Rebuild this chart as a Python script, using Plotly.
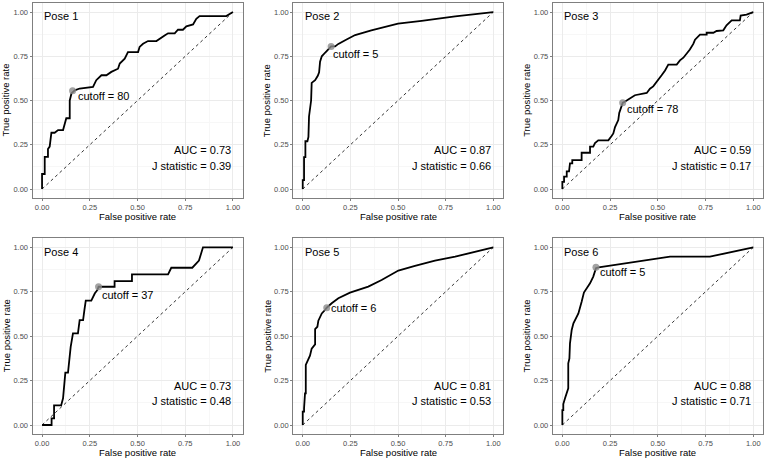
import plotly.graph_objects as go

# ---------------- data ----------------
panel_titles = ["Pose 1", "Pose 2", "Pose 3", "Pose 4", "Pose 5", "Pose 6"]

fpr1 = [0, 0, .014, .014, .031, .031, .040, .049, .066, .084, .110, .119, .127, .145, .145, .154, .171, .197, .258, .267,
        .284, .311, .337, .363, .398, .407, .433, .450, .503, .511, .529, .555, .599, .616, .642, .660, .695, .712, .738, .756,
        .791, .808, .825, .965, 1]
tpr1 = [0, .085, .085, .182, .182, .226, .24, .318, .318, .333, .333, .37, .40, .40, .50, .54, .558, .568, .577, .577,
        .615, .643, .643, .662, .68, .709, .737, .774, .774, .803, .821, .836, .836, .85, .868, .88, .88, .90, .90, .919,
        .93, .962, .977, .977, 1]

fpr2 = [0, 0, .007, .007, .014, .014, .0245, .03, .033, .04, .044, .047, .065, .079, .086, .091, .10, .117, .135, .149,
        .17, .187, .23, .275, .36, .50, .624, .80, 1]
tpr2 = [0, .05, .05, .18, .18, .27, .27, .295, .41, .46, .50, .60, .615, .64, .66, .72, .75, .77, .79, .806,
        .806, .82, .845, .87, .897, .934, .95, .976, 1]

fpr3 = [0, 0, .009, .009, .023, .023, .035, .040, .052, .052, .101, .101, .145, .145, .162, .171, .188, .241, .258, .267,
        .276, .293, .298, .311, .316, .337, .363, .380, .442, .459, .476, .503, .520, .538, .555, .599, .616, .634, .651, .668,
        .686, .695, .721, .756, .756, .791, .808, .843, .86, .887, .93, .934, .965, 1]
tpr3 = [0, .04, .04, .07, .07, .10, .10, .145, .145, .163, .163, .205, .205, .24, .24, .26, .275, .275, .30, .314,
        .35, .39, .43, .47, .487, .50, .52, .53, .543, .567, .58, .615, .643, .67, .703, .703, .727, .742, .765, .788,
        .82, .844, .872, .872, .883, .883, .893, .897, .925, .953, .953, .98, .985, 1]

fpr4 = [0, .05, .05, .063, .063, .10, .11, .116, .122, .136, .14, .15, .162, .188, .197, .215, .222, .229, .258, .276,
        .29, .296, .38, .38, .471, .471, .66, .677, .787, .822, .843, 1]
tpr4 = [0, 0, .037, .037, .11, .11, .15, .206, .295, .295, .347, .44, .516, .516, .59, .59, .648, .70, .70, .74,
        .76, .778, .778, .81, .81, .848, .848, .885, .885, .925, 1, 1]

fpr5 = [0, 0, .007, .007, .012, .016, .016, .024, .038, .047, .061, .065, .065, .077, .082, .091, .10, .117, .126, .152,
        .187, .248, .344, .414, .502, .589, .694, .80, 1]
tpr5 = [0, .075, .075, .094, .178, .178, .338, .356, .39, .43, .454, .454, .54, .553, .587, .61, .628, .647, .66, .685,
        .713, .745, .779, .816, .869, .895, .925, .947, 1]

fpr6 = [0, 0, .005, .005, .014, .023, .031, .031, .037, .040, .049, .058, .084, .101, .113, .145, .162, .176, .19, .564,
        .773, 1]
tpr6 = [0, .084, .084, .118, .15, .178, .206, .347, .375, .46, .535, .572, .628, .694, .745, .797, .835, .882, .887, .947,
        .947, 1]

cut_x = [0.16, 0.149, 0.316, 0.296, 0.126, 0.176]
cut_y = [0.555, 0.806, 0.487, 0.778, 0.66, 0.887]
cut_values = [80, 5, 78, 37, 6, 5]
auc = [0.73, 0.87, 0.59, 0.73, 0.81, 0.88]
jstat = [0.39, 0.66, 0.17, 0.48, 0.53, 0.71]

tick_vals = [0, 0.25, 0.5, 0.75, 1.0]
tick_text = ["0.00", "0.25", "0.50", "0.75", "1.00"]

fprs = [fpr1, fpr2, fpr3, fpr4, fpr5, fpr6]
tprs = [tpr1, tpr2, tpr3, tpr4, tpr5, tpr6]

# ---------------- layout geometry ----------------
W, H = 766, 460
x_domains = [(32.5 / W, 242.5 / W), (293.2 / W, 502.8 / W), (552.8 / W, 762.8 / W)]
y_domains = [(1 - 197.9 / H, 1 - 3.2 / H), (1 - 433.9 / H, 1 - 238.4 / H)]
label_xshift = [3, 0, 2, 1, 2, 2]
label_yshift = [-5, -8, -6, -8, 0, -5]

FONT = "Liberation Sans, Arial, sans-serif"
fig = go.Figure()
layout = dict(width=W, height=H, margin=dict(l=0, r=0, t=0, b=0),
              paper_bgcolor="white", plot_bgcolor="white", showlegend=False,
              font=dict(family=FONT, color="black"))
annotations = []

for i in range(6):
    r, c = divmod(i, 3)
    n = "" if i == 0 else str(i + 1)
    xa, ya = "x" + n, "y" + n
    axis_common = dict(range=[-0.05, 1.05], tickvals=tick_vals, ticktext=tick_text,
                       tickfont=dict(size=7.5, color="#4d4d4d", family=FONT),
                       ticks="outside", ticklen=2, tickcolor="#7f7f7f", tickwidth=1,
                       showline=True, mirror=True, linecolor="#7f7f7f", linewidth=1,
                       showgrid=True, gridcolor="#ebebeb", gridwidth=1, zeroline=False,
                       minor=dict(tickvals=[0.125, 0.375, 0.625, 0.875], showgrid=True,
                                  gridcolor="#f7f7f7", gridwidth=1, ticks=""),
                       fixedrange=True)
    layout["xaxis" + n] = dict(axis_common, domain=x_domains[c], anchor=ya)
    layout["yaxis" + n] = dict(axis_common, domain=y_domains[r], anchor=xa)

    # diagonal reference
    fig.add_trace(go.Scatter(x=[0, 1], y=[0, 1], mode="lines", xaxis=xa, yaxis=ya,
                             line=dict(color="black", width=0.8, dash="3px,3px"), hoverinfo="skip"))
    # ROC curve
    fig.add_trace(go.Scatter(x=fprs[i], y=tprs[i], mode="lines", xaxis=xa, yaxis=ya,
                             line=dict(color="black", width=1.8), hoverinfo="skip"))
    # cutoff point
    fig.add_trace(go.Scatter(x=[cut_x[i]], y=[cut_y[i]], mode="markers", xaxis=xa, yaxis=ya,
                             marker=dict(color="rgba(140,140,140,0.8)", size=7), hoverinfo="skip"))

    annotations.append(dict(x=cut_x[i], y=cut_y[i], xref=xa, yref=ya, text=f"cutoff = {cut_values[i]}",
                            showarrow=False, xanchor="left", yanchor="middle",
                            xshift=label_xshift[i], yshift=label_yshift[i],
                            font=dict(size=11, color="black")))
    annotations.append(dict(x=1.0, y=0.218, xref=xa, yref=ya, text=f"AUC = {auc[i]:.2f}",
                            showarrow=False, xanchor="right", yanchor="middle",
                            font=dict(size=11, color="black")))
    annotations.append(dict(x=1.0, y=0.133, xref=xa, yref=ya, text=f"J statistic = {jstat[i]:.2f}",
                            showarrow=False, xanchor="right", yanchor="middle",
                            font=dict(size=11, color="black")))
    annotations.append(dict(x=0.0, y=0.975, xref=xa, yref=ya, text=panel_titles[i],
                            showarrow=False, xanchor="left", yanchor="middle",
                            font=dict(size=11, color="black")))
    # axis titles
    annotations.append(dict(x=0.5, y=0, xref=xa + " domain", yref=ya + " domain", yshift=-18.5,
                            text="False positive rate", showarrow=False,
                            xanchor="center", yanchor="middle", font=dict(size=9.5, color="black")))
    annotations.append(dict(x=0, y=0.5, xref=xa + " domain", yref=ya + " domain", xshift=-26.5,
                            text="True positive rate", showarrow=False, textangle=-90,
                            xanchor="center", yanchor="middle", font=dict(size=9.5, color="black")))

layout["annotations"] = annotations
fig.update_layout(**layout)
fig.write_html("out.html", config={"displayModeBar": False},
               post_script="document.body.style.margin='0';document.body.style.overflow='hidden';")
